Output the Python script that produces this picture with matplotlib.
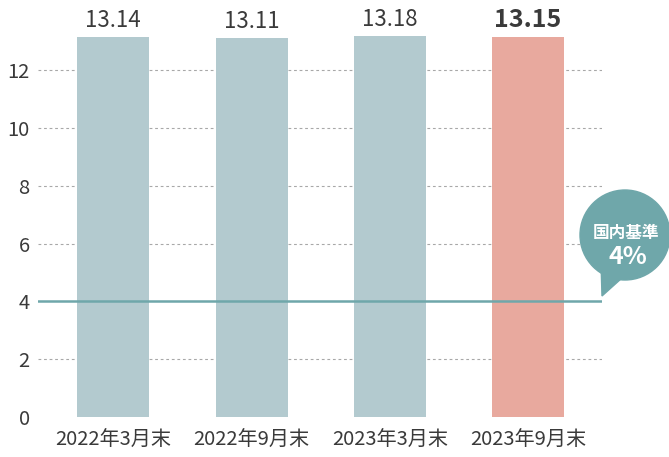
import matplotlib.pyplot as plt
import matplotlib.patches as mpatches
import numpy as np

plt.rcParams['font.family'] = ['Noto Sans CJK JP', 'DejaVu Sans']

categories = ['2022年3月末', '2022年9月末', '2023年3月末', '2023年9月末']
values = [13.14, 13.11, 13.18, 13.15]
baseline = 4
yticks = [0, 2, 4, 6, 8, 10, 12]

BAR = '#b3cacf'
HIGHLIGHT = '#e8a99e'
TEAL = '#6fa7aa'
TEXT = '#3a3a3a'

fig = plt.figure(figsize=(6.69, 4.57), dpi=100)
ax = fig.add_axes([38 / 669, 40 / 457, (602 - 38) / 669, (417 - 27) / 457])

x = np.arange(len(categories))
colors = [BAR] * (len(values) - 1) + [HIGHLIGHT]
ax.bar(x, values, width=0.52, color=colors, zorder=2)

for i, v in enumerate(values):
    last = i == len(values) - 1
    ax.annotate(f'{v:.2f}', (i, v), xytext=(0, 4), textcoords='offset points',
                ha='center', va='bottom', color=TEXT,
                fontsize=18 if last else 16,
                fontweight='bold' if last else 'normal')

ax.axhline(baseline, color=TEAL, linewidth=1.8, zorder=3)

ax.set_xlim(-0.545, 3.535)
ax.set_ylim(0, 13.5)
ax.set_yticks(yticks)
ax.set_yticklabels([str(t) for t in yticks], fontsize=14.5, color=TEXT)
ax.set_xticks(x)
ax.set_xticklabels(categories, fontsize=14.5, color=TEXT)
ax.tick_params(axis='both', length=0)
ax.tick_params(axis='y', pad=6)
ax.tick_params(axis='x', pad=9)
for t in yticks[1:]:
    if t != baseline:
        ax.axhline(t, color='#a8a8a8', linewidth=0.8, linestyle=(0, (2.5, 2.5)), zorder=1)
for s in ax.spines.values():
    s.set_visible(False)

# callout bubble in pixel coordinates
ov = fig.add_axes([0, 0, 1, 1], facecolor='none')
ov.set_xlim(0, 669)
ov.set_ylim(457, 0)
ov.axis('off')
ov.add_patch(mpatches.Circle((625, 235), 45, color=TEAL, zorder=5))
ov.add_patch(mpatches.Polygon([(601, 262), (622, 278), (602, 296)], closed=True,
                              color=TEAL, zorder=5))
ov.text(626, 233, '国内基準', color='white', fontsize=12, fontweight='bold',
        ha='center', va='center', zorder=6)
ov.text(628, 257, '4%', color='white', fontsize=18, fontweight='bold',
        ha='center', va='center', zorder=6)

fig.savefig('out.png', dpi=100)
